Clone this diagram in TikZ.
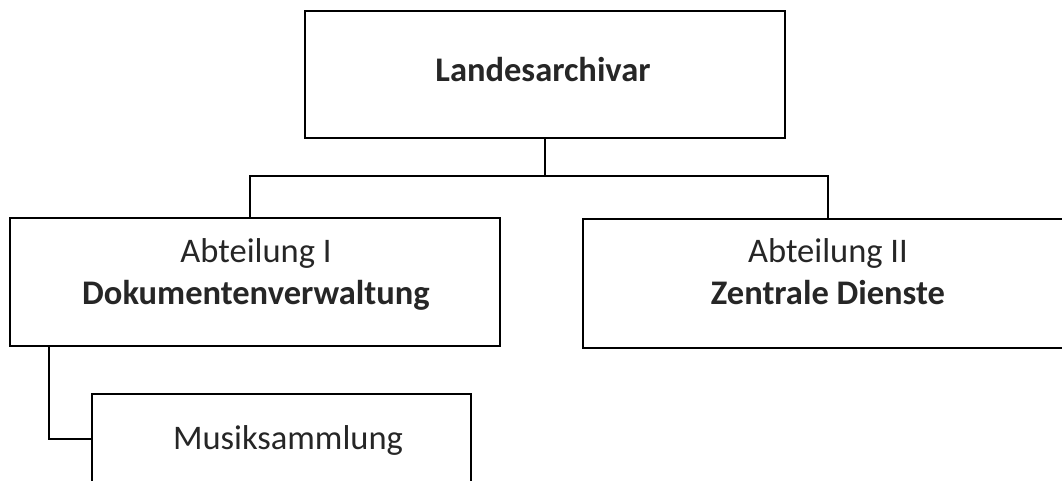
\documentclass[tikz,border=0pt]{standalone}
\usepackage{fontspec}
\setmainfont{Carlito}
\begin{document}
\begin{tikzpicture}[x=1pt,y=-1pt,
  box/.style={draw=black,line width=2pt,minimum width=#1,inner sep=0pt},
  lbl/.style={anchor=base,align=center,inner sep=0pt,text=black!85,font=\fontsize{34.5}{42}\selectfont},
  conn/.style={draw=black,line width=2pt}]
\useasboundingbox (0,0) rectangle (1062,481);
\clip (0,0) rectangle (1062,481);
\node[box=480pt,minimum height=127pt] (top) at (545,74.5) {};
\node[box=490pt,minimum height=128pt] (a1) at (255,282) {};
\node[box=490pt,minimum height=129pt] (a2) at (828,283) {};
\node[box=379pt,minimum height=90pt] (m) at (281.5,439) {};
\node[lbl] (ttop) at (543,82) {\textbf{Landesarchivar}};
\node[lbl] (ta1) at (256,304) {Abteilung I\\\textbf{Dokumentenverwaltung}};
\node[lbl] (ta2) at (828,304) {Abteilung II\\\textbf{Zentrale Dienste}};
\node[lbl] (tm) at (288,449) {Musiksammlung};
\coordinate (bus) at (545,176);
\coordinate (xl) at (250,0);
\coordinate (xm) at (49,0);
\draw[conn] (top.south) -- (bus);
\draw[conn] (bus) -| (a1.north -| xl);
\draw[conn] (bus) -| (a2.north);
\draw[conn] (a1.south -| xm) |- (m.west);
\end{tikzpicture}
\end{document}
